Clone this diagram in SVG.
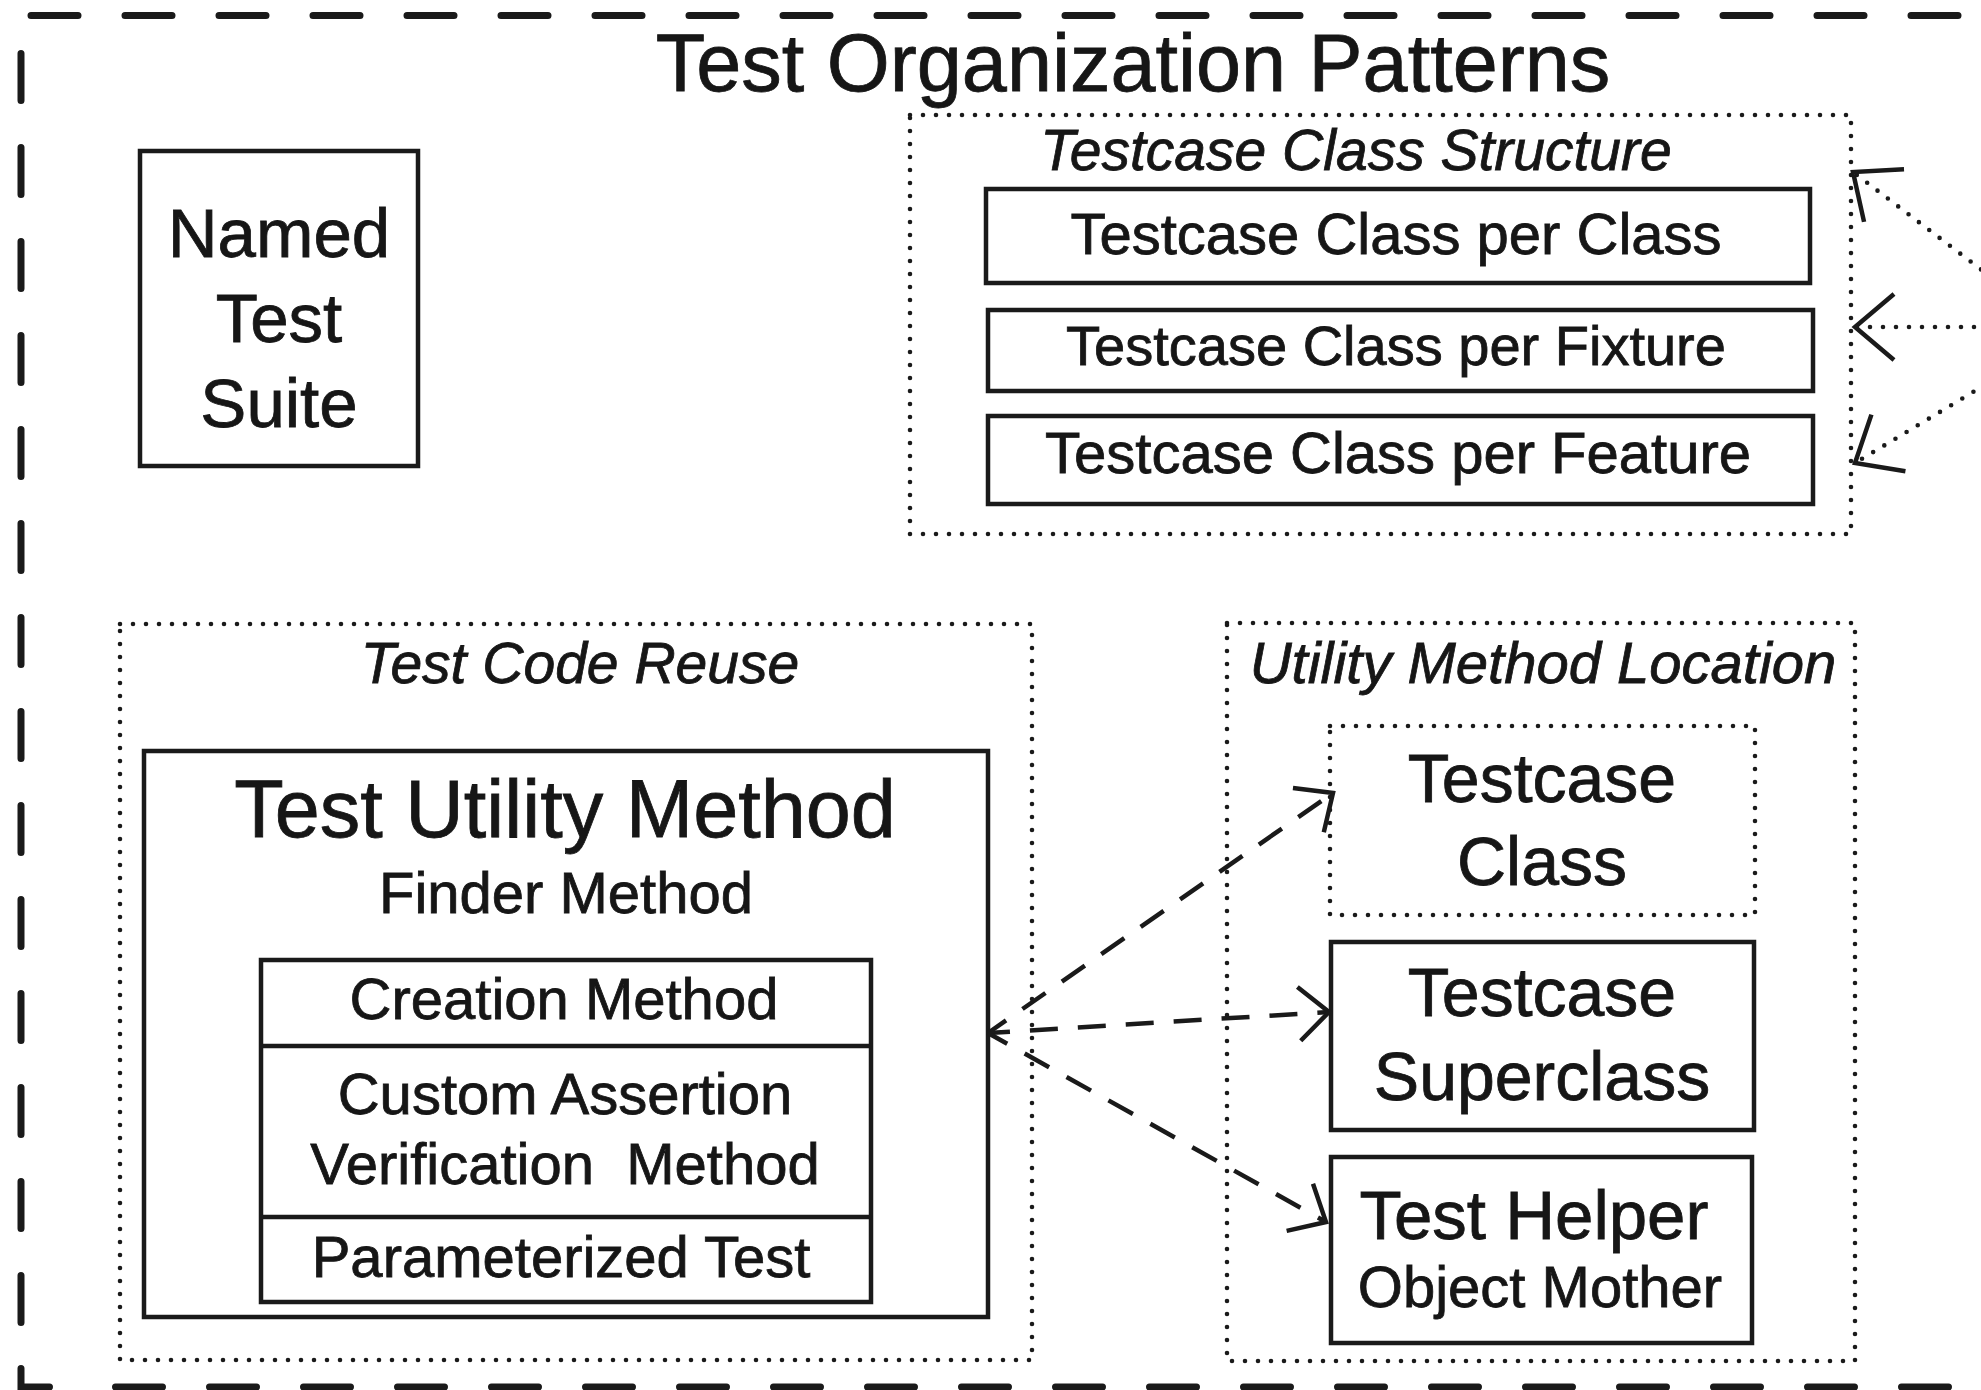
<svg xmlns="http://www.w3.org/2000/svg" width="1981" height="1390" viewBox="0 0 1981 1390">
  <style>
    text { font-family: "Liberation Sans", Arial, Helvetica, sans-serif; fill: #161616; stroke: #161616; stroke-width: 0.8; text-anchor: middle; }
    .it { font-style: italic; }
    .box { fill: none; stroke: #1a1a1a; stroke-width: 4.5; }
    .dot { fill: none; stroke: #1a1a1a; stroke-width: 4.6; stroke-dasharray: 0 13; stroke-linecap: round; }
    .frame { fill: none; stroke: #1a1a1a; stroke-width: 7; stroke-dasharray: 47 47; stroke-linecap: round; }
    .dash { fill: none; stroke: #1a1a1a; stroke-width: 4.5; stroke-dasharray: 28 20; stroke-dashoffset: 6; }
    .dotline { fill: none; stroke: #1a1a1a; stroke-width: 4.6; stroke-dasharray: 0 13; stroke-linecap: round; }
  </style>
  <defs>
    <marker id="openHead" markerUnits="userSpaceOnUse" orient="auto" refX="0" refY="0"
            markerWidth="90" markerHeight="90" viewBox="-45 -45 90 90" overflow="visible">
      <path d="M-30,-27 L0,0 L-30,27" fill="none" stroke="#1a1a1a" stroke-width="4.5"/>
    </marker>
    <marker id="openHeadLarge" markerUnits="userSpaceOnUse" orient="auto" refX="0" refY="0"
            markerWidth="110" markerHeight="110" viewBox="-55 -55 110 110" overflow="visible">
      <path d="M-39,-33 L0,0 L-39,33" fill="none" stroke="#1a1a1a" stroke-width="4.5"/>
    </marker>
  </defs>

  <!-- outer dashed frame (right edge runs past the canvas) -->
  <g id="frame">
    <path class="frame" d="M31 15.5 H1990"/>
    <path class="frame" d="M21 53.5 V1330"/>
    <path class="frame" d="M21 1368.5 V1387 H66" stroke-dasharray="none"/>
    <path class="frame" d="M115.5 1387 H1990"/>
    <text x="1133" y="91" font-size="81">Test Organization Patterns</text>
  </g>

  <!-- standalone pattern -->
  <g id="named-test-suite">
    <rect class="box" x="140" y="151" width="278" height="315"/>
    <text x="279" y="257" font-size="69">Named</text>
    <text x="279" y="342" font-size="69">Test</text>
    <text x="279" y="427" font-size="69">Suite</text>
  </g>

  <!-- testcase class structure group -->
  <g id="testcase-class-structure">
    <rect class="dot" x="910" y="115" width="941" height="419"/>
    <text class="it" x="1356" y="170" font-size="57">Testcase Class Structure</text>
  </g>
  <g id="tc-per-class">
    <rect class="box" x="986" y="189" width="824" height="94"/>
    <text x="1396" y="254" font-size="58">Testcase Class per Class</text>
  </g>
  <g id="tc-per-fixture">
    <rect class="box" x="988" y="310" width="825" height="81"/>
    <text x="1396" y="365" font-size="56">Testcase Class per Fixture</text>
  </g>
  <g id="tc-per-feature">
    <rect class="box" x="988" y="416" width="825" height="88"/>
    <text x="1398" y="473" font-size="58">Testcase Class per Feature</text>
  </g>

  <!-- test code reuse group -->
  <g id="test-code-reuse">
    <rect class="dot" x="120" y="624" width="912" height="736"/>
    <text class="it" x="580" y="683" font-size="57">Test Code Reuse</text>
  </g>
  <g id="test-utility-method">
    <rect class="box" x="144" y="751" width="844" height="566"/>
    <text x="565" y="837" font-size="81">Test Utility Method</text>
    <text x="566" y="913" font-size="58">Finder Method</text>
  </g>
  <g id="utility-variants">
    <rect class="box" x="261" y="960" width="610" height="342"/>
    <line class="box" x1="261" y1="1046" x2="871" y2="1046"/>
    <line class="box" x1="261" y1="1217" x2="871" y2="1217"/>
    <text x="564" y="1019" font-size="58">Creation Method</text>
    <text x="565" y="1114" font-size="58">Custom Assertion</text>
    <text x="565" y="1184" font-size="58" style="white-space:pre">Verification  Method</text>
    <text x="561" y="1277" font-size="58">Parameterized Test</text>
  </g>

  <!-- utility method location group -->
  <g id="utility-method-location">
    <rect class="dot" x="1227" y="623" width="628" height="738"/>
    <text class="it" x="1543" y="683" font-size="58">Utility Method Location</text>
  </g>
  <g id="testcase-class">
    <rect class="dot" x="1330" y="726" width="425" height="189"/>
    <text x="1542" y="802" font-size="68">Testcase</text>
    <text x="1542" y="885" font-size="68">Class</text>
  </g>
  <g id="testcase-superclass">
    <rect class="box" x="1331" y="942" width="423" height="188"/>
    <text x="1542" y="1016" font-size="68">Testcase</text>
    <text x="1542" y="1100" font-size="68">Superclass</text>
  </g>
  <g id="test-helper">
    <rect class="box" x="1331" y="1157" width="421" height="186"/>
    <text x="1534" y="1239" font-size="69">Test Helper</text>
    <text x="1540" y="1307" font-size="58">Object Mother</text>
  </g>

  <!-- connectors -->
  <g id="connectors">
    <path class="dash" d="M988 1033 L1333 793" marker-end="url(#openHead)"/>
    <path class="dash" d="M988 1033 L1329 1012" marker-end="url(#openHead)"/>
    <path class="dash" d="M988 1033 L1326 1222" marker-end="url(#openHead)"/>
    <path class="dotline" d="M2012 293 L1853 172" marker-end="url(#openHeadLarge)"/>
    <path class="dotline" d="M2000 327 L1855 327" marker-end="url(#openHeadLarge)"/>
    <path class="dotline" d="M2018 365 L1855 463" marker-end="url(#openHeadLarge)"/>
  </g>
</svg>
